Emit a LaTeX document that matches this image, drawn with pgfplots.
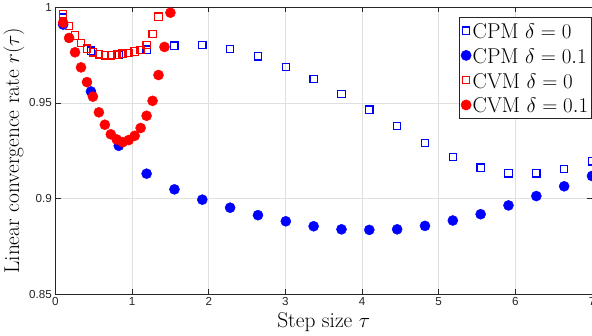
\documentclass[border=0pt]{standalone}
\usepackage{fontspec}
\usepackage{pgfplots}
\pgfplotsset{compat=1.18}
\newfontfamily\arial{Liberation Sans}
\definecolor{axgray}{RGB}{38,38,38}
\definecolor{gridgray}{RGB}{223,223,223}
\begin{document}
\begin{tikzpicture}[trim axis right]
\begin{axis}[
  scale only axis, width=530.5pt, height=283.5pt,
  xmin=0, xmax=7, ymin=0.85, ymax=1,
  xtick={0,1,2,3,4,5,6,7}, ytick={0.85,0.9,0.95,1},
  xticklabels={0,1,2,3,4,5,6,7}, yticklabels={0.85,0.9,0.95,1},
  tick align=inside, major tick length=5pt,
  tick style={axgray, line width=0.6pt},
  axis line style={axgray, line width=0.8pt},
  grid=major, grid style={gridgray, line width=0.6pt},
  ticklabel style={font=\arial\fontsize{11.5}{12}\selectfont, text=axgray},
  /pgf/number format/assume math mode=true,
  xlabel={Step size $\tau$}, ylabel={Linear convergence rate $r(\tau)$},
  label style={font=\fontsize{21.2}{25}\selectfont, text=black},
  ylabel style={yshift=-2pt},
  legend style={at={(1,0.965)}, anchor=north east, draw=axgray, line width=0.6pt,
    font=\fontsize{21.2}{25}\selectfont, inner xsep=2pt, inner ysep=0.5pt, row sep=0pt,
    nodes={inner ysep=1.5pt, inner xsep=1.5pt, text height=18.5pt, text depth=3pt}},
  legend image code/.code={\draw[#1] plot coordinates {(0.2cm,0cm)};},
  legend cell align=left,
]
\addplot[only marks, blue, mark=square, mark size=3.6pt, line width=1.2pt] coordinates {
(0.1,0.9946) (0.4632,0.9774) (0.8263,0.9751) (1.1895,0.9779) (1.5526,0.9800)
(1.9158,0.9802) (2.2789,0.9783) (2.6421,0.9744) (3.0053,0.9688) (3.3684,0.9625)
(3.7316,0.9548) (4.0947,0.9465) (4.4579,0.9379) (4.8211,0.9291) (5.1842,0.9218)
(5.5474,0.9162) (5.9105,0.9132) (6.2737,0.9132) (6.6368,0.9155) (7.0,0.9195)};
\addlegendentry{CPM $\delta=0$}
\addplot[only marks, blue, mark=*, mark size=5pt, mark options={draw=blue, fill=blue}] coordinates {
(0.1,0.9910) (0.4632,0.9560) (0.8263,0.9276) (1.1895,0.9130) (1.5526,0.9048)
(1.9158,0.8994) (2.2789,0.8952) (2.6421,0.8913) (3.0053,0.8881) (3.3684,0.8855)
(3.7316,0.8839) (4.0947,0.8836) (4.4579,0.8839) (4.8211,0.8857) (5.1842,0.8885)
(5.5474,0.8918) (5.9105,0.8964) (6.2737,0.9013) (6.6368,0.9064) (7.0,0.9118)};
\addlegendentry{CPM $\delta=0.1$}
\addplot[only marks, red, mark=square, mark size=3.6pt, line width=1.2pt] coordinates {
(0.1,0.9963) (0.1778,0.9902) (0.2556,0.9853) (0.3333,0.9814) (0.4111,0.9784)
(0.4889,0.9765) (0.5667,0.9754) (0.6444,0.9749) (0.7222,0.9749) (0.8,0.9753)
(0.8778,0.9758) (0.9556,0.9762) (1.0333,0.9769) (1.1111,0.9777) (1.1889,0.9804)
(1.2667,0.9862) (1.3444,0.9951)};
\addlegendentry{CVM $\delta=0$}
\addplot[only marks, red, mark=*, mark size=5pt, mark options={draw=red, fill=red}] coordinates {
(0.1,0.9920) (0.1778,0.9840) (0.2556,0.9765) (0.3333,0.9686) (0.4111,0.9609)
(0.4889,0.9533) (0.5667,0.9451) (0.6444,0.9386) (0.7222,0.9336) (0.8,0.9309)
(0.8778,0.9295) (0.9556,0.9306) (1.0333,0.9328) (1.1111,0.9369) (1.1889,0.9433)
(1.2667,0.9511) (1.3444,0.9646) (1.4222,0.9793) (1.5,0.9972)};
\addlegendentry{CVM $\delta=0.1$}
\end{axis}
\end{tikzpicture}
\end{document}
